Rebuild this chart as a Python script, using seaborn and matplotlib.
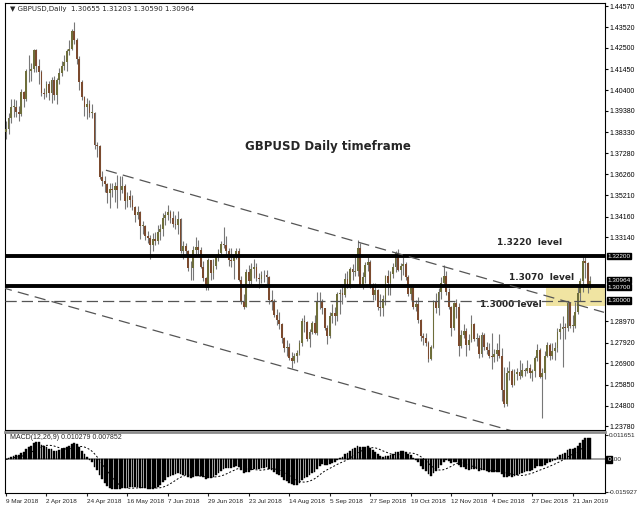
import numpy as np
import pandas as pd
import matplotlib
matplotlib.use('Agg')
import matplotlib.pyplot as plt
import matplotlib.transforms as mtransforms
import seaborn as sns

# GBPUSD daily bars, 9 Mar 2018 .. 30 Jan 2019 (no bar on 25 Dec / 1 Jan)
first_open = 1.3835
closes = [
    1.3850,
    1.3905, 1.3960, 1.3960, 1.3935, 1.3925,
    1.4030, 1.3995, 1.4135, 1.4135, 1.4145,
    1.4240, 1.4160, 1.4130, 1.4025, 1.4020,
    1.4070, 1.4025, 1.4090, 1.4015, 1.4090,
    1.4125, 1.4160, 1.4180, 1.4235, 1.4245,
    1.4335, 1.4290, 1.4195, 1.4080, 1.4005,
    1.3960, 1.3970, 1.3930, 1.3930, 1.3770,
    1.3765, 1.3610, 1.3590, 1.3575, 1.3530,
    1.3550, 1.3545, 1.3565, 1.3545, 1.3545,
    1.3565, 1.3495, 1.3515, 1.3500, 1.3465,
    1.3425, 1.3440, 1.3370, 1.3370, 1.3320,
    1.3310, 1.3275, 1.3305, 1.3295, 1.3340,
    1.3355, 1.3410, 1.3425, 1.3440, 1.3410,
    1.3380, 1.3375, 1.3405, 1.3245, 1.3270,
    1.3245, 1.3160, 1.3160, 1.3250, 1.3265,
    1.3250, 1.3165, 1.3110, 1.3060, 1.3200,
    1.3135, 1.3170, 1.3215, 1.3235, 1.3280,
    1.3275, 1.3245, 1.3200, 1.3195, 1.3225,
    1.3245, 1.3100, 1.2995, 1.2970, 1.3140,
    1.3095, 1.3155, 1.3165, 1.3110, 1.3105,
    1.3125, 1.3125, 1.3115, 1.3005, 1.2995,
    1.2930, 1.2905, 1.2885, 1.2815, 1.2765,
    1.2770, 1.2715, 1.2700, 1.2725, 1.2740,
    1.2790, 1.2900, 1.2895, 1.2810, 1.2845,
    1.2890, 1.2840, 1.3000, 1.2995, 1.2965,
    1.2865, 1.2825, 1.2925, 1.2940, 1.2925,
    1.3035, 1.3040, 1.3030, 1.3105, 1.3075,
    1.3155, 1.3140, 1.3145, 1.3260, 1.3070,
    1.3115, 1.3175, 1.3190, 1.3070, 1.3030,
    1.3050, 1.2970, 1.2965, 1.3010, 1.3120,
    1.3085, 1.3130, 1.3165, 1.3235, 1.3150,
    1.3170, 1.3180, 1.3115, 1.3035, 1.3060,
    1.2970, 1.2985, 1.2905, 1.2825, 1.2815,
    1.2790, 1.2710, 1.2770, 1.2995, 1.2965,
    1.3045, 1.3085, 1.3120, 1.3045, 1.2970,
    1.2865, 1.2990, 1.2970, 1.2775, 1.2830,
    1.2850, 1.2780, 1.2805, 1.2885, 1.2810,
    1.2815, 1.2735, 1.2830, 1.2770, 1.2755,
    1.2725, 1.2720, 1.2735, 1.2755, 1.2725,
    1.2560, 1.2490, 1.2640, 1.2650, 1.2585,
    1.2635, 1.2645, 1.2625, 1.2655, 1.2650,
    1.2665, 1.2640, 1.2650, 1.2715,
    1.2755, 1.2620, 1.2640, 1.2725,
    1.2780, 1.2725, 1.2750, 1.2765, 1.2845,
    1.2860, 1.2870, 1.2865, 1.2990, 1.2875,
    1.2875, 1.2945, 1.3040, 1.3095, 1.3195,
    1.3185, 1.30655, 1.30964,
]
highs = [
    1.3890,
    1.3930, 1.3995, 1.3995, 1.3990, 1.3965,
    1.4045, 1.4035, 1.4145, 1.4215, 1.4175,
    1.4245, 1.4245, 1.4195, 1.4140, 1.4050,
    1.4085, 1.4085, 1.4105, 1.4110, 1.4100,
    1.4150, 1.4185, 1.4215, 1.4245, 1.4290,
    1.4345, 1.4377, 1.4300, 1.4210, 1.4090,
    1.4010, 1.4000, 1.3990, 1.3970, 1.3935,
    1.3785, 1.3770, 1.3640, 1.3615, 1.3580,
    1.3580, 1.3580, 1.3585, 1.3620, 1.3615,
    1.3615, 1.3575, 1.3535, 1.3545, 1.3520,
    1.3470, 1.3470, 1.3445, 1.3395, 1.3375,
    1.3345, 1.3325, 1.3335, 1.3340, 1.3375,
    1.3380, 1.3435, 1.3445, 1.3473, 1.3450,
    1.3445, 1.3425, 1.3445, 1.3410, 1.3295,
    1.3285, 1.3250, 1.3195, 1.3270, 1.3315,
    1.3300, 1.3265, 1.3195, 1.3115, 1.3210,
    1.3200, 1.3205, 1.3230, 1.3255, 1.3295,
    1.3362, 1.3320, 1.3260, 1.3260, 1.3230,
    1.3260, 1.3260, 1.3120, 1.3035, 1.3155,
    1.3175, 1.3185, 1.3205, 1.3185, 1.3135,
    1.3145, 1.3150, 1.3150, 1.3120, 1.3050,
    1.3010, 1.2960, 1.2945, 1.2890, 1.2820,
    1.2805, 1.2790, 1.2745, 1.2740, 1.2755,
    1.2805, 1.2915, 1.2930, 1.2900, 1.2860,
    1.2900, 1.2930, 1.3045, 1.3045, 1.3010,
    1.2965, 1.2880, 1.2945, 1.2985, 1.2970,
    1.3045, 1.3055, 1.3075, 1.3135, 1.3145,
    1.3165, 1.3180, 1.3215, 1.3298, 1.3285,
    1.3140, 1.3190, 1.3215, 1.3200, 1.3085,
    1.3085, 1.3055, 1.3035, 1.3030, 1.3125,
    1.3150, 1.3145, 1.3185, 1.3245, 1.3257,
    1.3185, 1.3215, 1.3190, 1.3125, 1.3075,
    1.3075, 1.3005, 1.3020, 1.2910, 1.2840,
    1.2840, 1.2800, 1.2780, 1.3005, 1.3040,
    1.3060, 1.3115, 1.3175, 1.3145, 1.3060,
    1.2975, 1.2995, 1.3010, 1.2990, 1.2855,
    1.2885, 1.2865, 1.2835, 1.2930, 1.2890,
    1.2840, 1.2830, 1.2845, 1.2840, 1.2795,
    1.2790, 1.2840, 1.2760, 1.2790, 1.2835,
    1.2765, 1.2670, 1.2670, 1.2700, 1.2660,
    1.2660, 1.2665, 1.2705, 1.2690, 1.2665,
    1.2705, 1.2685, 1.2660, 1.2725,
    1.2785, 1.2765, 1.2665, 1.2750,
    1.2795, 1.2790, 1.2790, 1.2795, 1.2865,
    1.2890, 1.2925, 1.2890, 1.3000, 1.2995,
    1.2930, 1.2995, 1.3065, 1.3110, 1.3215,
    1.3215, 1.3190, 1.31203,
]
lows = [
    1.3800,
    1.3825, 1.3880, 1.3910, 1.3910, 1.3890,
    1.3915, 1.3960, 1.3985, 1.4080, 1.4085,
    1.4130, 1.4130, 1.4070, 1.4010, 1.3995,
    1.4005, 1.3990, 1.3975, 1.3990, 1.3970,
    1.4070, 1.4110, 1.4140, 1.4135, 1.4215,
    1.4240, 1.4270, 1.4170, 1.4040, 1.3990,
    1.3915, 1.3900, 1.3910, 1.3905, 1.3750,
    1.3710, 1.3600, 1.3565, 1.3535, 1.3485,
    1.3460, 1.3510, 1.3490, 1.3460, 1.3500,
    1.3530, 1.3455, 1.3465, 1.3465, 1.3450,
    1.3390, 1.3405, 1.3305, 1.3330, 1.3300,
    1.3285, 1.3205, 1.3245, 1.3275, 1.3280,
    1.3300, 1.3320, 1.3375, 1.3400, 1.3385,
    1.3365, 1.3355, 1.3330, 1.3235, 1.3205,
    1.3220, 1.3145, 1.3100, 1.3100, 1.3225,
    1.3220, 1.3160, 1.3095, 1.3050, 1.3050,
    1.3100, 1.3105, 1.3155, 1.3195, 1.3225,
    1.3260, 1.3220, 1.3170, 1.3165, 1.3105,
    1.3205, 1.3095, 1.2985, 1.2957, 1.2970,
    1.3070, 1.3080, 1.3110, 1.3095, 1.3060,
    1.3085, 1.3090, 1.3080, 1.2985, 1.2955,
    1.2920, 1.2880, 1.2860, 1.2790, 1.2745,
    1.2725, 1.2705, 1.2665, 1.2690, 1.2695,
    1.2730, 1.2775, 1.2845, 1.2800, 1.2770,
    1.2835, 1.2835, 1.2830, 1.2960, 1.2935,
    1.2855, 1.2785, 1.2815, 1.2890, 1.2880,
    1.2900, 1.2935, 1.2985, 1.3020, 1.3060,
    1.3060, 1.3100, 1.3120, 1.3120, 1.3065,
    1.3055, 1.3085, 1.3145, 1.3060, 1.3005,
    1.3005, 1.2955, 1.2925, 1.2925, 1.2980,
    1.3030, 1.3030, 1.3110, 1.3140, 1.3145,
    1.3100, 1.3125, 1.3100, 1.3025, 1.3005,
    1.2960, 1.2950, 1.2890, 1.2800, 1.2780,
    1.2775, 1.2695, 1.2705, 1.2765, 1.2940,
    1.2930, 1.3010, 1.3075, 1.3030, 1.2960,
    1.2825, 1.2855, 1.2915, 1.2725, 1.2765,
    1.2815, 1.2725, 1.2755, 1.2795, 1.2800,
    1.2775, 1.2715, 1.2720, 1.2755, 1.2735,
    1.2715, 1.2660, 1.2695, 1.2700, 1.2715,
    1.2505, 1.2475, 1.2477, 1.2605, 1.2575,
    1.2585, 1.2605, 1.2610, 1.2620, 1.2625,
    1.2640, 1.2615, 1.2600, 1.2620,
    1.2700, 1.2615, 1.2418, 1.2610,
    1.2720, 1.2705, 1.2710, 1.2705, 1.2745,
    1.2810, 1.2670, 1.2810, 1.2850, 1.2865,
    1.2845, 1.2865, 1.2935, 1.3000, 1.3045,
    1.3110, 1.3040, 1.30590,
]

price_ticks = [1.44570, 1.43520, 1.42500, 1.41450, 1.40400, 1.39380, 1.38330,
               1.37280, 1.36260, 1.35210, 1.34160, 1.33140, 1.28970, 1.27920,
               1.26900, 1.25850, 1.24800, 1.23780]
boxed_prices = [1.32200, 1.30964, 1.30700, 1.30000]
levels = [1.3220, 1.3070]
dashed_level = 1.3000
zone = [1.2972, 1.3076]          # highlighted area around the 1.3000-1.3070 levels
zone_start = 213.4               # bar index where the highlight starts
upper_trend = [(39.5, 1.3645), (236.4, 1.2942)]
lower_trend = [(-2.0, 1.3066), (203.0, 1.2345)]
macd_ticks = [0.011651, -0.015927]

dates = pd.bdate_range('2018-03-09', '2019-01-30')
dates = dates[~dates.isin(pd.to_datetime(['2018-12-25', '2019-01-01']))]

df = pd.DataFrame({'date': dates, 'close': closes, 'high': highs, 'low': lows})
df['open'] = [first_open] + closes[:-1]
df['x'] = np.arange(len(df))

# MACD(12,26,9) the MT4 way: signal is a simple average of the main line
ema12 = df['close'].ewm(span=12, adjust=False).mean()
ema26 = df['close'].ewm(span=26, adjust=False).mean()
df['macd'] = ema12 - ema26
df['signal'] = df['macd'].rolling(9, min_periods=1).mean()

sns.set_style('white')
plt.rcParams['font.family'] = ['Liberation Sans', 'DejaVu Sans']

W, H = 638, 511
fig = plt.figure(figsize=(W / 100, H / 100), dpi=100)
ax = fig.add_axes([5 / W, 1 - 430 / H, 600 / W, 427 / H])
ax2 = fig.add_axes([5 / W, 1 - 493 / H, 600 / W, 61 / H], sharex=ax)

bull = '#6e6e3a'
bear = '#7b4a2e'
wick = '#777777'

up = df['close'] >= df['open']
ax.vlines(df['x'], df['low'], df['high'], color=wick, lw=0.8, zorder=3)
body_lo = df[['open', 'close']].min(axis=1)
body_h = (df['close'] - df['open']).abs().clip(lower=0.0003)
ax.bar(df['x'], body_h, bottom=body_lo, width=0.72,
       color=np.where(up, bull, bear), edgecolor='none', zorder=4)

# levels and trendlines
ax.fill_between([zone_start, 240], zone[0], zone[1], color='#f0e4a2', zorder=1, lw=0)
ax.axhline(levels[0], color='black', lw=2.8, zorder=5)
ax.axhline(levels[1], color='black', lw=2.8, zorder=5)
ax.axhline(dashed_level, color='#555555', lw=0.9, dashes=(9, 4), zorder=5)
ax.plot(*zip(*upper_trend), color='#555555', lw=0.9, dashes=(9, 5), zorder=5)
ax.plot(*zip(*lower_trend), color='#555555', lw=0.9, dashes=(9, 5), zorder=5)

ax.set_xlim(-0.4, 236.8)
ax.set_ylim(1.2360, 1.4472)

ax.yaxis.tick_right()
ax.set_yticks(price_ticks)
ax.set_yticklabels(['%.5f' % p for p in price_ticks])
ax.tick_params(axis='y', labelsize=5, length=2, pad=1.5, right=True, colors='black')
ax.tick_params(axis='x', bottom=False, labelbottom=False)
for s in ax.spines.values():
    s.set_color('black')
    s.set_linewidth(0.8)

# boxed price labels; the two close ones are stacked like in the terminal
tr = mtransforms.blended_transform_factory(ax.transAxes, ax.transData)
nudge = {1.32200: 0.0, 1.30964: 0.0005, 1.30700: -0.0003, 1.30000: 0.0}
for p in boxed_prices:
    ax.text(1.004, p + nudge[p], '%.5f' % p, transform=tr, fontsize=4.6,
            color='white', va='center', ha='left', zorder=10,
            bbox=dict(boxstyle='square,pad=0.1', fc='black', ec='black'))

ax.text(0.008, 0.993, '\u25bc GBPUSD,Daily  1.30655 1.31203 1.30590 1.30964',
        transform=ax.transAxes, fontsize=5, va='top', ha='left',
        family=['DejaVu Sans'])
ax.text(0.538, 0.663, 'GBPUSD Daily timeframe', transform=ax.transAxes,
        fontsize=8.5, fontweight='bold', ha='center', va='center',
        family=['DejaVu Sans'])
for txt, xa, ya in [('1.3220  level', 0.875, 0.438),
                    ('1.3070  level', 0.895, 0.358),
                    ('1.3000 level', 0.843, 0.293)]:
    ax.text(xa, ya, txt, transform=ax.transAxes, fontsize=6.5,
            fontweight='bold', ha='center', va='center', family=['DejaVu Sans'])

# MACD panel
ax2.bar(df['x'], df['macd'], width=0.7, color='black', edgecolor='black',
        linewidth=0.3, zorder=3)
sns.lineplot(data=df, x='x', y='signal', ax=ax2, color='black', lw=0.7,
             dashes=False, zorder=4)
ax2.lines[-1].set_dashes((2, 2))
ax2.axhline(0, color='#8c8c8c', lw=1.2, zorder=2)
ax2.set_ylim(-0.0162, 0.0132)
ax2.yaxis.tick_right()
ax2.set_yticks(macd_ticks)
ax2.set_yticklabels(['%.6f' % v for v in macd_ticks])
ax2.tick_params(axis='y', labelsize=4.6, length=2, pad=1, right=True)
ax2.set_ylabel('')
ax2.set_xlabel('')
tr2 = mtransforms.blended_transform_factory(ax2.transAxes, ax2.transData)
ax2.text(1.004, 0, '0', transform=tr2, fontsize=4.6, color='white', va='center',
         ha='left', bbox=dict(boxstyle='square,pad=0.15', fc='black', ec='black'))
ax2.text(1.013, 0, '.00', transform=tr2, fontsize=4.6, va='center', ha='left')
ax2.text(0.008, 0.96, 'MACD(12,26,9) 0.010279 0.007852', transform=ax2.transAxes,
         fontsize=5, va='top', ha='left')
for s in ax2.spines.values():
    s.set_color('black')
    s.set_linewidth(0.8)
ax2.spines['top'].set_color('#8c8c8c')
ax2.spines['top'].set_linewidth(2)

xt = df['x'].iloc[::16]
ax2.set_xticks(xt)
ax2.set_xticklabels([f"{d.day} {d.strftime('%b %Y')}" for d in df['date'].iloc[::16]],
                    ha='left')
ax2.tick_params(axis='x', labelsize=4.6, length=2, pad=2, bottom=True)

fig.savefig('out.png', dpi=100)
